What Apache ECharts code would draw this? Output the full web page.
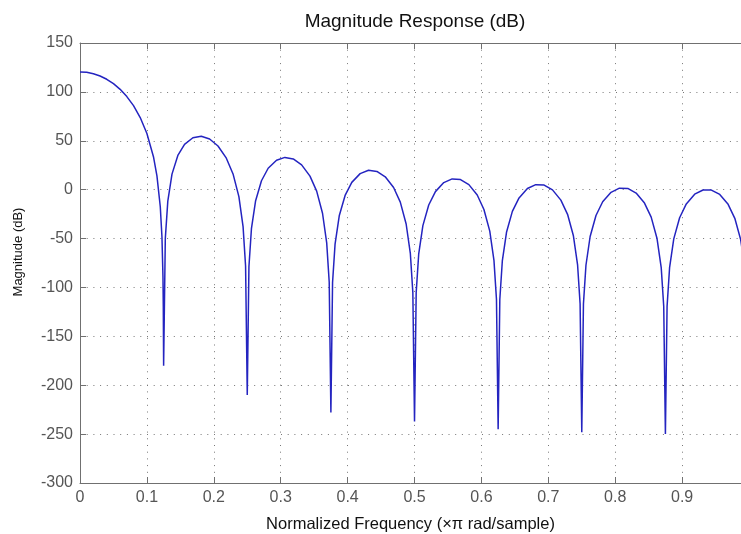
<!DOCTYPE html>
<html>
<head>
<meta charset="utf-8">
<script src="https://cdn.jsdelivr.net/npm/echarts@6/dist/echarts.min.js"></script>
<style>
html,body{margin:0;padding:0;background:#fff;}
#chart{width:741px;height:534px;}
</style>
</head>
<body>
<div id="chart"></div>
<script>
// Normalized frequency (x pi rad/sample)
var freq = [0, 0.01, 0.02, 0.03, 0.04, 0.05, 0.06, 0.07, 0.08, 0.09, 0.1, 0.11, 0.115, 0.12, 0.1225, 0.124, 0.1245, 0.125,
 0.1275, 0.13125, 0.1375, 0.14625, 0.15625, 0.16875, 0.18125, 0.19375, 0.20625, 0.21875, 0.22875, 0.2375, 0.24375, 0.2475, 0.25,
 0.2525, 0.25625, 0.2625, 0.27125, 0.28125, 0.29375, 0.30625, 0.31875, 0.33125, 0.34375, 0.35375, 0.3625, 0.36875, 0.3725, 0.375,
 0.3775, 0.38125, 0.3875, 0.39625, 0.40625, 0.41875, 0.43125, 0.44375, 0.45625, 0.46875, 0.47875, 0.4875, 0.49375, 0.4975, 0.5,
 0.5025, 0.50625, 0.5125, 0.52125, 0.53125, 0.54375, 0.55625, 0.56875, 0.58125, 0.59375, 0.60375, 0.6125, 0.61875, 0.6225, 0.625,
 0.6275, 0.63125, 0.6375, 0.64625, 0.65625, 0.66875, 0.68125, 0.69375, 0.70625, 0.71875, 0.72875, 0.7375, 0.74375, 0.7475, 0.75,
 0.7525, 0.75625, 0.7625, 0.77125, 0.78125, 0.79375, 0.80625, 0.81875, 0.83125, 0.84375, 0.85375, 0.8625, 0.86875, 0.8725, 0.875,
 0.8775, 0.88125, 0.8875, 0.89625, 0.90625, 0.91875, 0.93125, 0.94375, 0.95625, 0.96875, 0.97875, 0.9875, 0.99375, 0.9975];

// Magnitude (dB)
var magnitude = [120.4, 120.0, 118.6, 116.2, 112.9, 108.4, 102.6, 95.2, 85.9, 73.8, 57.5, 33.1, 14.1, -17.5, -48.4, -88.7, -118.9, -180,
 -50.1, -11.7, 15.9, 35.0, 46.4, 53.1, 54.6, 51.8, 44.7, 32.2, 16.1, -7.1, -37.8, -78.1, -210,
 -78.9, -39.9, -11.3, 9.1, 21.9, 30.1, 33.0, 31.4, 25.4, 13.8, -1.5, -24.1, -54.4, -94.4, -228,
 -94.9, -55.7, -26.7, -5.9, 7.45, 16.4, 19.8, 18.7, 13.2, 2.2, -12.75, -35.1, -65.1, -105.0, -237,
 -105.3, -66.0, -36.8, -15.65, -2.0, 7.24, 11.0, 10.3, 5.16, -5.5, -20.3, -42.4, -72.3, -112.1, -245,
 -112.3, -72.9, -43.6, -22.25, -8.4, 1.15, 5.15, 4.7, -0.2, -10.7, -25.2, -47.2, -77.0, -116.7, -248,
 -116.8, -77.3, -47.9, -26.4, -12.4, -2.7, 1.5, 1.25, -3.45, -13.7, -28.1, -50.0, -79.7, -119.3, -250,
 -119.4, -79.8, -50.3, -28.7, -14.6, -4.6, -0.3, -0.4, -4.9, -15.0, -29.3, -51.0, -80.6, -120.2];

var xTickLabels = ['0', '0.1', '0.2', '0.3', '0.4', '0.5', '0.6', '0.7', '0.8', '0.9'];
var yTickLabels = ['-300', '-250', '-200', '-150', '-100', '-50', '0', '50', '100', '150'];

var titleText = 'Magnitude Response (dB)';
var xName = 'Normalized Frequency (\u00d7\u03c0 rad/sample)';
var yName = 'Magnitude (dB)';

var FONT = '"Liberation Sans", Arial, sans-serif';
var AXIS_COLOR = '#707070';
var GRID_DASH = [1, 5.7];
var X_VISIBLE_MAX = 0.988; // the reference picture is cropped just before 1.0

function xLabel(v) {
  var k = Math.round(v * 10);
  if (Math.abs(v * 10 - k) > 1e-6) return '';
  return xTickLabels[k] !== undefined ? xTickLabels[k] : '';
}

var chart = echarts.init(document.getElementById('chart'), null, {renderer: 'canvas'});
var seriesData = freq.map(function (f, i) { return [f, magnitude[i]]; });

chart.setOption({
  animation: false,
  backgroundColor: '#ffffff',
  title: {
    text: titleText,
    left: 410,
    top: 7,
    textAlign: 'center',
    textStyle: {fontFamily: FONT, fontSize: 19, fontWeight: 'normal', color: '#111'}
  },
  graphic: [{
    type: 'text',
    x: 18,
    y: 252,
    rotation: Math.PI / 2,
    style: {
      text: yName,
      fontFamily: FONT,
      fontSize: 13,
      fill: '#111',
      textAlign: 'center',
      textVerticalAlign: 'middle'
    }
  }],
  grid: {left: 80, right: 0, top: 43, bottom: 51, containLabel: false, outerBoundsMode: 'none'},
  xAxis: [{
    type: 'value',
    min: 0,
    max: X_VISIBLE_MAX,
    interval: 0.1,
    position: 'bottom',
    name: xName,
    nameLocation: 'middle',
    nameGap: 33,
    nameTextStyle: {fontFamily: FONT, fontSize: 16.5, color: '#111', align: 'center'},
    axisLine: {show: true, onZero: false, lineStyle: {color: AXIS_COLOR, width: 1}},
    axisTick: {show: true, inside: true, length: 6, lineStyle: {color: AXIS_COLOR}},
    axisLabel: {
      fontFamily: FONT, fontSize: 16, color: '#555', margin: 7,
      showMaxLabel: false,
      formatter: xLabel
    },
    splitLine: {show: true, lineStyle: {color: '#777777', type: GRID_DASH, width: 1}}
  }, {
    type: 'value',
    min: 0,
    max: X_VISIBLE_MAX,
    interval: 0.1,
    position: 'top',
    axisLine: {show: true, onZero: false, lineStyle: {color: AXIS_COLOR, width: 1}},
    axisTick: {show: true, inside: true, length: 6, lineStyle: {color: AXIS_COLOR}},
    axisLabel: {show: false},
    splitLine: {show: false}
  }],
  yAxis: {
    type: 'value',
    min: -300,
    max: 150,
    interval: 50,
    axisLine: {show: true, onZero: false, lineStyle: {color: AXIS_COLOR, width: 1}},
    axisTick: {show: true, inside: true, length: 6, lineStyle: {color: AXIS_COLOR}},
    axisLabel: {
      fontFamily: FONT, fontSize: 16, color: '#555', margin: 7,
      formatter: function (v) { return yTickLabels[Math.round((v + 300) / 50)]; }
    },
    splitLine: {show: true, lineStyle: {color: '#777777', type: GRID_DASH, width: 1}}
  },
  series: [{
    type: 'line',
    data: seriesData,
    xAxisIndex: 0,
    showSymbol: false,
    symbol: 'none',
    clip: true,
    lineStyle: {color: '#2424c0', width: 1.5},
    z: 5
  }]
});
</script>
</body>
</html>
